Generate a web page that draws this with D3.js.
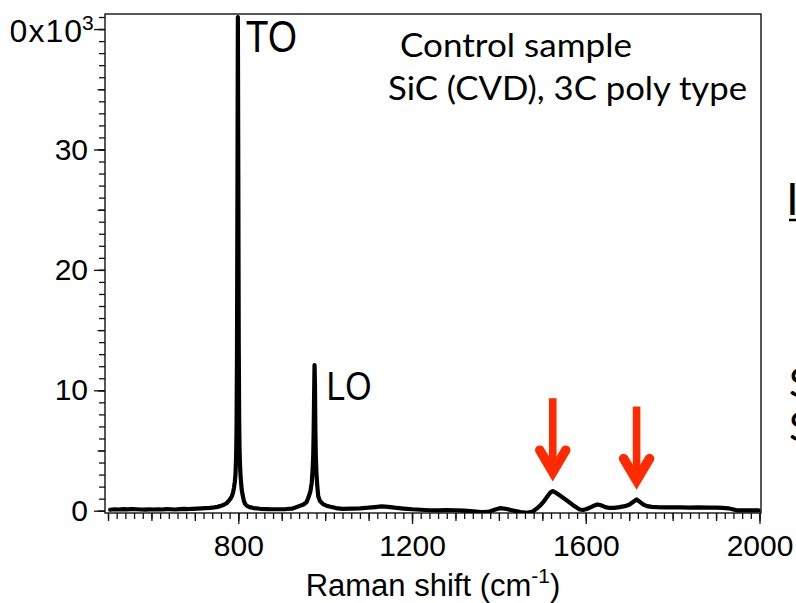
<!DOCTYPE html>
<html>
<head>
<meta charset="utf-8">
<script src="https://cdn.jsdelivr.net/npm/d3@7"></script>
<style>
  body { margin: 0; background: #fff; }
  svg { display: block; }
</style>
</head>
<body>
<script>
// Raman spectrum of the control sample, intensity in 10^3 counts
var ramanShift = [
  505, 515, 525, 535, 545, 555, 565, 575, 585, 595, 605, 615, 625, 635, 645, 655, 665, 675, 685, 695,
  705, 715, 725, 735, 745, 752, 760, 767, 773, 778, 782, 785, 788, 790, 792, 793.5, 795, 796, 797, 798,
  799, 800, 801, 802, 803, 804.5, 806, 808, 810, 813, 816, 820, 826, 835, 850, 870, 890, 910, 925, 940,
  950, 957, 962, 966, 969, 971, 972.5, 973.5, 974.5, 975.5, 976.5, 977.5, 978.5, 980, 982, 984, 988, 995, 1003, 1012,
  1025, 1040, 1060, 1080, 1100, 1115, 1130, 1145, 1160, 1180, 1200, 1220, 1240, 1260, 1280, 1300, 1320, 1340, 1360, 1375,
  1390, 1404, 1418, 1435, 1450, 1465, 1478, 1488, 1496, 1504, 1512, 1518, 1524, 1530, 1538, 1546, 1554, 1562, 1570, 1578,
  1586, 1594, 1602, 1612, 1620, 1627, 1635, 1645, 1655, 1665, 1678, 1690, 1700, 1708, 1717, 1724, 1732, 1741, 1752, 1765,
  1780, 1800, 1820, 1840, 1860, 1880, 1900, 1915, 1928, 1938, 1948, 1960, 1975, 1988, 1998
];
var intensity = [
  0.08, 0.12, 0.10, 0.13, 0.11, 0.14, 0.12, 0.10, 0.09, 0.11, 0.10, 0.12, 0.10, 0.13, 0.12, 0.10, 0.13, 0.15, 0.14, 0.16,
  0.18, 0.20, 0.22, 0.24, 0.28, 0.32, 0.40, 0.50, 0.62, 0.82, 1.0, 1.2, 1.5, 1.9, 2.4, 3.0, 4.5, 7, 13, 26,
  41, 28, 14, 7.5, 4.8, 3.3, 2.5, 1.7, 1.3, 0.8, 0.55, 0.40, 0.30, 0.22, 0.16, 0.13, 0.12, 0.14, 0.18, 0.38,
  0.52, 0.70, 1.15, 1.6, 2.3, 3.3, 4.6, 6.5, 9.5, 12.1, 10.5, 6.5, 4.5, 3.0, 2.0, 1.2, 0.8, 0.55, 0.42, 0.33,
  0.22, 0.15, 0.17, 0.20, 0.25, 0.30, 0.36, 0.32, 0.25, 0.18, 0.12, 0.08, 0.04, 0.03, 0.05, 0.04, 0.01, -0.06, -0.12, -0.10,
  0.08, 0.22, 0.14, 0.0, -0.12, -0.18, -0.06, 0.20, 0.46, 0.80, 1.20, 1.50, 1.62, 1.52, 1.32, 1.12, 0.92, 0.70, 0.48, 0.28,
  0.10, 0.06, 0.14, 0.30, 0.44, 0.52, 0.45, 0.30, 0.23, 0.24, 0.30, 0.38, 0.50, 0.70, 0.93, 0.75, 0.52, 0.38, 0.32, 0.29,
  0.28, 0.27, 0.27, 0.26, 0.27, 0.26, 0.25, 0.24, 0.20, 0.12, 0.03, 0.02, 0.03, 0.02, 0.03
];

var xTickValues = [800, 1200, 1600, 2000];
var yTickValues = [0, 10, 20, 30, 40];
var yTickLabels = ["0", "10", "20", "30", "40"];

var peakNames = ["TO", "LO"];
var peakShifts = [799, 975.5];
var peakHeights = [41, 12.1];

var arrowShifts = [1524, 1717];
var arrowHeights = [1.62, 0.93];

var noteLines = ["Control sample", "SiC (CVD), 3C poly type"];

var width = 796, height = 603;
var frame = { left: 105, right: 761, top: 14, bottom: 513 };
var axisFont = "'Liberation Sans', Arial, Helvetica, sans-serif";
var arrowColor = "#ff2a00";

var svg = d3.select("body").append("svg").attr("width", width).attr("height", height);
svg.append("rect").attr("width", width).attr("height", height).attr("fill", "#fff");

var x = d3.scaleLinear().domain([500, 2000]).range([108, 759.5]);
var y = d3.scaleLinear().domain([-0.19, 41.25]).range([frame.bottom, frame.top]);

// ticks: minor / medium / major, like the Igor style of the original
function bottomTicks(values, size, labels){
  var g = svg.append("g").attr("transform", "translate(0," + frame.bottom + ")")
    .call(d3.axisBottom(x).tickValues(values).tickSize(size).tickPadding(11)
      .tickFormat(labels ? d3.format("d") : ""));
  g.select(".domain").remove();
  g.selectAll("line").attr("stroke", "#111").attr("stroke-width", 1.3);
  g.selectAll("text").attr("fill", "#000").style("font-family", axisFont).style("font-size", "30px");
  return g;
}
function leftTicks(values, size, labels){
  var g = svg.append("g").attr("transform", "translate(" + frame.left + ",0)")
    .call(d3.axisLeft(y).tickValues(values).tickSize(size).tickPadding(6)
      .tickFormat(labels ? function(d, i){ return yTickLabels[i]; } : ""));
  g.select(".domain").remove();
  g.selectAll("line").attr("stroke", "#111").attr("stroke-width", 1.3);
  g.selectAll("text").attr("fill", "#000").style("font-family", axisFont).style("font-size", "30px");
  return g;
}

bottomTicks(d3.range(500, 2001, 20), 6, false);
bottomTicks(d3.range(500, 2001, 100), 8, false);
bottomTicks(xTickValues, 11, true);

leftTicks(d3.range(0, 42, 1), 6, false);
leftTicks(d3.range(0, 42, 5), 7.5, false);
var yMajor = leftTicks(yTickValues, 11, true);

// top label carries the x10^3 multiplier; in the original picture its
// first digit is cropped away, so a clip hides it the same way
var topTick = yMajor.selectAll(".tick").filter(function(d){ return d === 40; });
topTick.append("clipPath").attr("id", "topLabelClip")
  .append("rect").attr("x", 10.5 - frame.left).attr("y", -30).attr("width", frame.left - 10.5).attr("height", 50);
topTick.select("text")
  .attr("x", -22).attr("dy", null).attr("y", 12)
  .attr("clip-path", "url(#topLabelClip)")
  .style("font-size", "32px").style("letter-spacing", "1px")
  .text(yTickLabels[4] + "x10");
topTick.append("text")
  .attr("x", -23).attr("y", 0.5)
  .attr("text-anchor", "start").attr("fill", "#000")
  .style("font-family", axisFont).style("font-size", "21px")
  .text("3");

// frame
svg.append("rect")
  .attr("x", frame.left).attr("y", frame.top)
  .attr("width", frame.right - frame.left).attr("height", frame.bottom - frame.top)
  .attr("fill", "none").attr("stroke", "#111").attr("stroke-width", 1.4);

// spectrum
var clip = svg.append("clipPath").attr("id", "plotClip")
  .append("rect").attr("x", frame.left).attr("y", frame.top)
  .attr("width", frame.right - frame.left).attr("height", frame.bottom - frame.top);

var line = d3.line()
  .x(function(d, i){ return x(ramanShift[i]); })
  .y(function(d){ return y(d); });

svg.append("path")
  .attr("clip-path", "url(#plotClip)")
  .attr("d", line(intensity))
  .attr("fill", "none").attr("stroke", "#000").attr("stroke-width", 4.2)
  .attr("stroke-linejoin", "round").attr("stroke-linecap", "round");

// x axis title
var xt = svg.append("text")
  .attr("x", (frame.left + frame.right) / 2).attr("y", 596)
  .attr("text-anchor", "middle")
  .style("font-family", axisFont).style("font-size", "31px").attr("fill", "#000");
xt.append("tspan").text("Raman shift (cm");
xt.append("tspan").attr("dy", -13).style("font-size", "21px").text("-1");
xt.append("tspan").attr("dy", 13).text(")");

// peak names
svg.selectAll(".peakName").data(peakNames).enter().append("text")
  .attr("class", "peakName")
  .attr("x", function(d, i){ return x(peakShifts[i]) + (i === 0 ? 8 : 12); })
  .attr("y", function(d, i){ return y(peakHeights[i]) + 35; })
  .attr("textLength", function(d, i){ return i === 0 ? 51 : 45; })
  .attr("lengthAdjust", "spacingAndGlyphs")
  .style("font-family", axisFont).style("font-size", function(d, i){ return i === 0 ? "45px" : "41px"; })
  .attr("fill", "#000")
  .text(function(d){ return d; });

// note text
svg.selectAll(".note").data(noteLines).enter().append("text")
  .attr("class", "note")
  .attr("x", function(d, i){ return i === 0 ? 400 : 388; })
  .attr("y", function(d, i){ return 57 + i * 43; })
  .attr("textLength", function(d, i){ return i === 0 ? 232 : 359; })
  .attr("lengthAdjust", "spacingAndGlyphs")
  .style("font-family", "Lato, 'Open Sans', sans-serif").style("font-size", "32px")
  .attr("fill", "#000")
  .text(function(d){ return d; });

// red arrows pointing at the weak bands
var arrows = svg.selectAll(".arrow").data(arrowShifts).enter().append("g")
  .attr("class", "arrow")
  .attr("transform", function(d, i){ return "translate(" + x(d) + "," + (y(arrowHeights[i]) - 10) + ")"; });
arrows.append("rect")
  .attr("x", -3.8).attr("y", -83).attr("width", 7.6).attr("height", 76)
  .attr("fill", arrowColor);
arrows.append("polyline")
  .attr("points", "-13,-31 0,-9 13,-31")
  .attr("fill", "none").attr("stroke", arrowColor).attr("stroke-width", 9.5)
  .attr("stroke-linecap", "round").attr("stroke-linejoin", "miter").attr("stroke-miterlimit", 10);

// slide text cut off by the right edge of the picture
svg.append("text").attr("x", 786).attr("y", 215)
  .style("font-family", axisFont).style("font-size", "46px").attr("fill", "#000").text("I");
svg.append("line").attr("x1", 789).attr("x2", 796).attr("y1", 220).attr("y2", 220)
  .attr("stroke", "#000").attr("stroke-width", 2.5);
svg.append("text").attr("x", 789).attr("y", 397)
  .style("font-family", "Lato, sans-serif").style("font-size", "40px").attr("fill", "#000").text("S");
svg.append("text").attr("x", 789).attr("y", 441)
  .style("font-family", "Lato, sans-serif").style("font-size", "40px").attr("fill", "#000").text("S");
</script>
</body>
</html>
